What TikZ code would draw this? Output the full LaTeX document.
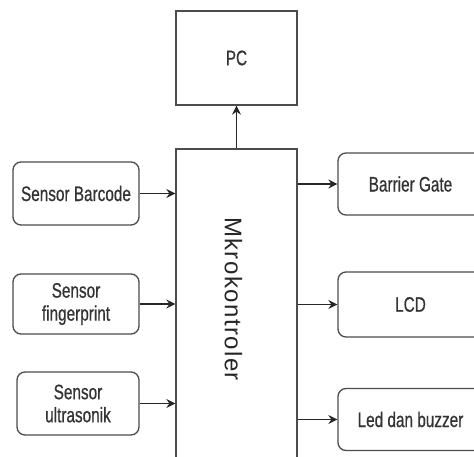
\documentclass[tikz,border=0pt]{standalone}
\usepackage{fontspec}
\setmainfont{Liberation Sans}
\usetikzlibrary{arrows.meta}
\newfontfamily\mkfont[LetterSpace=6]{Liberation Sans}
\newfontfamily\lblfont[FakeBold=0.7]{Liberation Sans}
\begin{document}
\begin{tikzpicture}[x=1pt,y=-1pt,
  blk/.style={draw=black!70,line width=1.3pt,rounded corners=8pt,inner sep=0pt,
    text=black!80,align=center,font=\fontsize{21}{23}\lblfont},
  sq/.style={draw=black!70,line width=1.3pt,inner sep=0pt,text=black!80,
    font=\fontsize{21}{23}\lblfont},
  conn/.style={draw=black!85,line width=1.3pt,-{Stealth[length=9pt,width=9pt,inset=3pt]}}]
\useasboundingbox (0,0) rectangle (474,457);
\fill[white] (0,0) rectangle (474,457);
\clip (0,0) rectangle (474,457);
\newcommand{\nar}[1]{\scalebox{0.73}[1]{#1}}
\node[sq,minimum width=121pt,minimum height=94pt] (pc) at (236.5,58) {\nar{PC}};
\node[sq,minimum width=121pt,minimum height=321pt] (mc) at (236.5,309.5) {};
\node[rotate=-90,text=black!85,font=\fontsize{24}{26}\mkfont] (mt) at (233.5,299) {Mkrokontroler};
\node[blk,minimum width=126pt,minimum height=63pt] (bar) at (76,193.5) {\nar{Sensor Barcode}};
\node[blk,minimum width=126pt,minimum height=60pt] (fin) at (76,304) {\nar{Sensor}\\\nar{fingerprint}};
\node[blk,minimum width=122pt,minimum height=63pt] (ult) at (78,403.5) {\nar{Sensor}\\\nar{ultrasonik}};
\node[blk,minimum width=145pt,minimum height=62pt] (gate) at (410.5,184) {\nar{Barrier Gate}};
\node[blk,minimum width=145pt,minimum height=65pt] (lcd) at (410.5,304.5) {\nar{LCD}};
\node[blk,minimum width=145pt,minimum height=62pt] (led) at (410.5,419.5) {\nar{Led dan buzzer}};
\draw[conn] (mc.north) -- (pc.south);
\draw[conn] (bar.east) -- (bar.east -| mc.west);
\draw[conn] (fin.east) -- (fin.east -| mc.west);
\draw[conn] (ult.east) -- (ult.east -| mc.west);
\draw[conn] (mc.east |- gate.west) -- (gate.west);
\draw[conn] (mc.east |- lcd.west) -- (lcd.west);
\draw[conn] (mc.east |- led.west) -- (led.west);
\end{tikzpicture}
\end{document}
